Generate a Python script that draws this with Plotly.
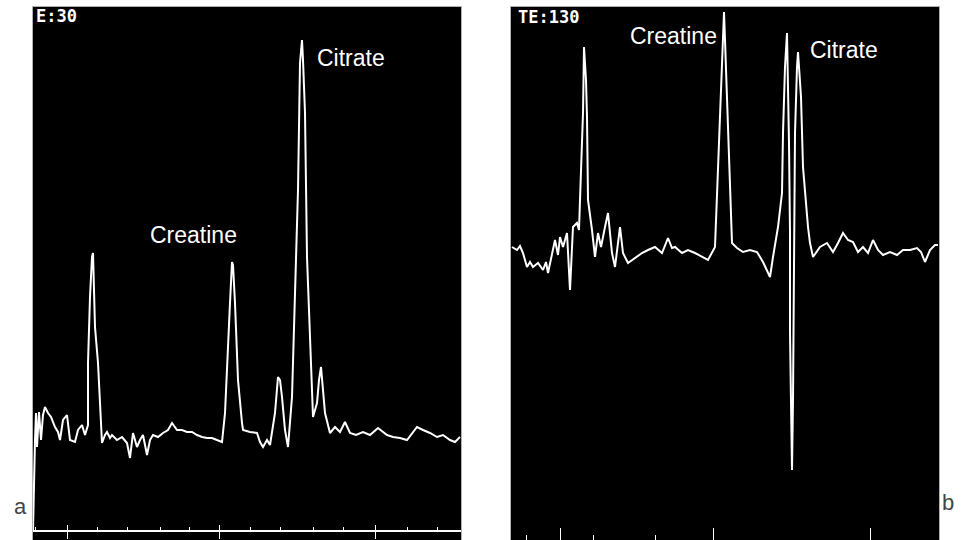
import plotly.graph_objects as go

# ---------------- data ----------------
# Panel a  (TE:30)  x = spectral point, y = intensity (a.u.)
a_x = [0, 1, 2, 3, 4, 6, 8, 10, 12, 15, 18, 22, 25, 27, 30, 34, 37, 42, 45, 49, 52, 55,
       55, 57, 59, 60, 61, 62, 65, 67, 68, 69, 72, 74, 77, 79, 84, 89, 94, 97, 100, 104,
       107, 110, 114, 117, 120, 125, 130, 135, 139, 144, 149, 154, 159, 164, 169, 174,
       179, 184, 189, 192, 194, 197, 199, 200, 202, 205, 209, 210, 217, 224, 227, 230,
       234, 237, 242, 245, 247, 249, 252, 255, 259, 262, 265, 267, 269, 270, 272, 274,
       277, 280, 284, 286, 288, 290, 292, 297, 302, 307, 312, 317, 323, 330, 337, 345,
       354, 360, 367, 374, 379, 384, 390, 397, 404, 410, 417, 422, 427]
a_y = [9, 70, 100, 127, 93, 128, 100, 125, 133, 127, 123, 113, 108, 100, 120, 125, 100, 98,
       110, 115, 105, 115, 177, 243, 283, 287, 260, 213, 177, 130, 105, 97, 105, 108, 102,
       105, 100, 103, 97, 82, 107, 93, 100, 105, 85, 100, 105, 103, 107, 110, 117, 110, 110,
       108, 108, 105, 103, 102, 102, 100, 98, 127, 177, 237, 278, 275, 237, 160, 117, 110,
       108, 107, 98, 93, 100, 95, 127, 163, 160, 143, 110, 93, 143, 260, 350, 477, 500, 480,
       427, 283, 210, 123, 137, 160, 173, 150, 127, 107, 113, 108, 118, 107, 105, 108, 105,
       112, 105, 103, 102, 100, 107, 113, 110, 107, 103, 105, 100, 98, 103]

# Panel b  (TE:130)
b_x = [1, 6, 9, 12, 16, 19, 22, 27, 32, 35, 37, 41, 44, 47, 49, 52, 56, 59, 62, 66, 68, 69,
       71, 72, 73, 75, 76, 77, 81, 84, 87, 90, 94, 97, 101, 104, 109, 112, 117, 124, 131,
       137, 144, 151, 157, 161, 164, 171, 177, 184, 191, 197, 204, 207, 211, 213, 214, 216,
       218, 221, 226, 232, 239, 246, 252, 259, 262, 267, 271, 272, 274, 276, 278, 279, 279,
       281, 281, 282, 283, 284, 286, 287, 290, 292, 297, 299, 302, 309, 316, 322, 327, 332,
       337, 342, 347, 352, 357, 362, 367, 372, 379, 386, 392, 399, 406, 410, 414, 419, 424,
       427]
b_y = [293, 290, 294, 287, 273, 278, 273, 277, 270, 278, 267, 287, 300, 285, 303, 293, 307,
       250, 313, 317, 310, 340, 393, 427, 493, 460, 423, 340, 310, 283, 307, 293, 313, 327,
       287, 273, 313, 287, 277, 282, 287, 290, 293, 287, 302, 292, 293, 287, 290, 287, 283,
       280, 293, 373, 463, 528, 500, 440, 370, 297, 292, 288, 290, 288, 278, 263, 283, 313,
       347, 407, 473, 507, 397, 307, 207, 107, 70, 140, 307, 407, 473, 488, 443, 373, 313,
       297, 283, 293, 297, 288, 297, 307, 300, 298, 288, 293, 287, 300, 290, 285, 288, 285,
       290, 290, 292, 288, 278, 290, 295, 295]

# scale ticks
a_major_ticks = [34, 186, 342]
a_minor_ticks = [2, 64, 94, 127, 156, 217, 247, 280, 310, 374, 404]
b_major_ticks = [49, 202, 359]
b_minor_ticks = [15, 82, 144]

X_RANGE = [0, 428]
Y_RANGE = [0, 533]
A_SCALE_LEVEL = 9   # intensity level of the panel-a scale bar

W, H = 966, 540
a_dom = [33 / W, 461 / W]
b_dom = [511 / W, 939 / W]
y_dom = [0, 533 / H]

fig = go.Figure()
fig.add_trace(go.Scatter(x=a_x, y=a_y, mode="lines", xaxis="x", yaxis="y",
                         line=dict(color="white", width=2), hoverinfo="skip"))
fig.add_trace(go.Scatter(x=b_x, y=b_y, mode="lines", xaxis="x2", yaxis="y2",
                         line=dict(color="white", width=2), hoverinfo="skip"))
# invisible helpers so that the overlay scale axes are drawn
fig.add_trace(go.Scatter(x=X_RANGE, y=[-50, -50], mode="lines", xaxis="x3", yaxis="y",
                         line=dict(width=0), showlegend=False, hoverinfo="skip"))
fig.add_trace(go.Scatter(x=X_RANGE, y=[-50, -50], mode="lines", xaxis="x4", yaxis="y",
                         line=dict(width=0), showlegend=False, hoverinfo="skip"))

frame = dict(showline=True, linecolor="#b0b0b0", linewidth=1, mirror=True,
             showgrid=False, zeroline=False, showticklabels=False, ticks="")

scale_pos = A_SCALE_LEVEL / H

fig.update_layout(
    width=W, height=H, autosize=False,
    margin=dict(l=0, r=0, t=0, b=0, pad=0),
    paper_bgcolor="white", plot_bgcolor="black",
    showlegend=False,
    xaxis=dict(domain=a_dom, range=X_RANGE, anchor="y", **frame),
    yaxis=dict(domain=y_dom, range=Y_RANGE, anchor="x", **frame),
    xaxis2=dict(domain=b_dom, range=X_RANGE, anchor="y2",
                showline=True, linecolor="#b0b0b0", linewidth=1, mirror=True,
                showgrid=False, zeroline=False, showticklabels=False,
                ticks="inside", ticklen=12, tickwidth=1, tickcolor="white",
                tickvals=b_major_ticks,
                minor=dict(tickvals=b_minor_ticks, ticks="inside", ticklen=5,
                           tickcolor="white", tickwidth=1)),
    yaxis2=dict(domain=y_dom, range=Y_RANGE, anchor="x2", **frame),
    xaxis3=dict(overlaying="x", range=X_RANGE, anchor="free", position=scale_pos,
                showline=True, linecolor="white", linewidth=2,
                showgrid=False, zeroline=False, showticklabels=False,
                ticks="inside", ticklen=5, tickwidth=1, tickcolor="white",
                tickvals=a_major_ticks,
                minor=dict(tickvals=a_minor_ticks, ticks="inside", ticklen=3,
                           tickcolor="white", tickwidth=1)),
    xaxis4=dict(overlaying="x", range=X_RANGE, anchor="free", position=scale_pos,
                showline=False, showgrid=False, zeroline=False, showticklabels=False,
                ticks="outside", ticklen=7, tickwidth=1, tickcolor="white",
                tickvals=a_major_ticks),
)

# white scale bar of panel a
fig.add_shape(type="line", xref="x", yref="y", x0=X_RANGE[0], x1=X_RANGE[1],
              y0=A_SCALE_LEVEL, y1=A_SCALE_LEVEL, line=dict(color="white", width=2),
              layer="above")

label_font = dict(family="Liberation Sans, Arial, sans-serif", size=23, color="white")
mono_font = dict(family="DejaVu Sans Mono, monospace", size=17, color="white")

annotations = [
    dict(text="<b>E:30</b>", x=1, y=533, xref="x", yref="y", xanchor="left",
         yanchor="top", yshift=3, showarrow=False, font=mono_font),
    dict(text="<b>TE:130</b>", x=5, y=533, xref="x2", yref="y2", xanchor="left",
         yanchor="top", yshift=2, showarrow=False, font=mono_font),
    dict(text="Creatine", x=160, y=305, xref="x", yref="y", showarrow=False,
         font=label_font),
    dict(text="Citrate", x=318, y=482, xref="x", yref="y", showarrow=False,
         font=label_font),
    dict(text="Creatine", x=162, y=504, xref="x2", yref="y2", showarrow=False,
         font=label_font),
    dict(text="Citrate", x=333, y=490, xref="x2", yref="y2", showarrow=False,
         font=label_font),
    dict(text="a", x=12 / W, y=1 - 521 / H, xref="paper", yref="paper", showarrow=False,
         font=dict(family="Liberation Sans, Arial, sans-serif", size=22, color="#444")),
    dict(text="b", x=956 / W, y=1 - 517 / H, xref="paper", yref="paper", showarrow=False,
         font=dict(family="Liberation Sans, Arial, sans-serif", size=22, color="#444")),
]
fig.update_layout(annotations=annotations)

fig.write_html(
    "out.html",
    config={"displayModeBar": False, "staticPlot": True},
    post_script="document.body.style.margin='0';document.body.style.padding='0';"
                "document.body.style.overflow='hidden';",
)
